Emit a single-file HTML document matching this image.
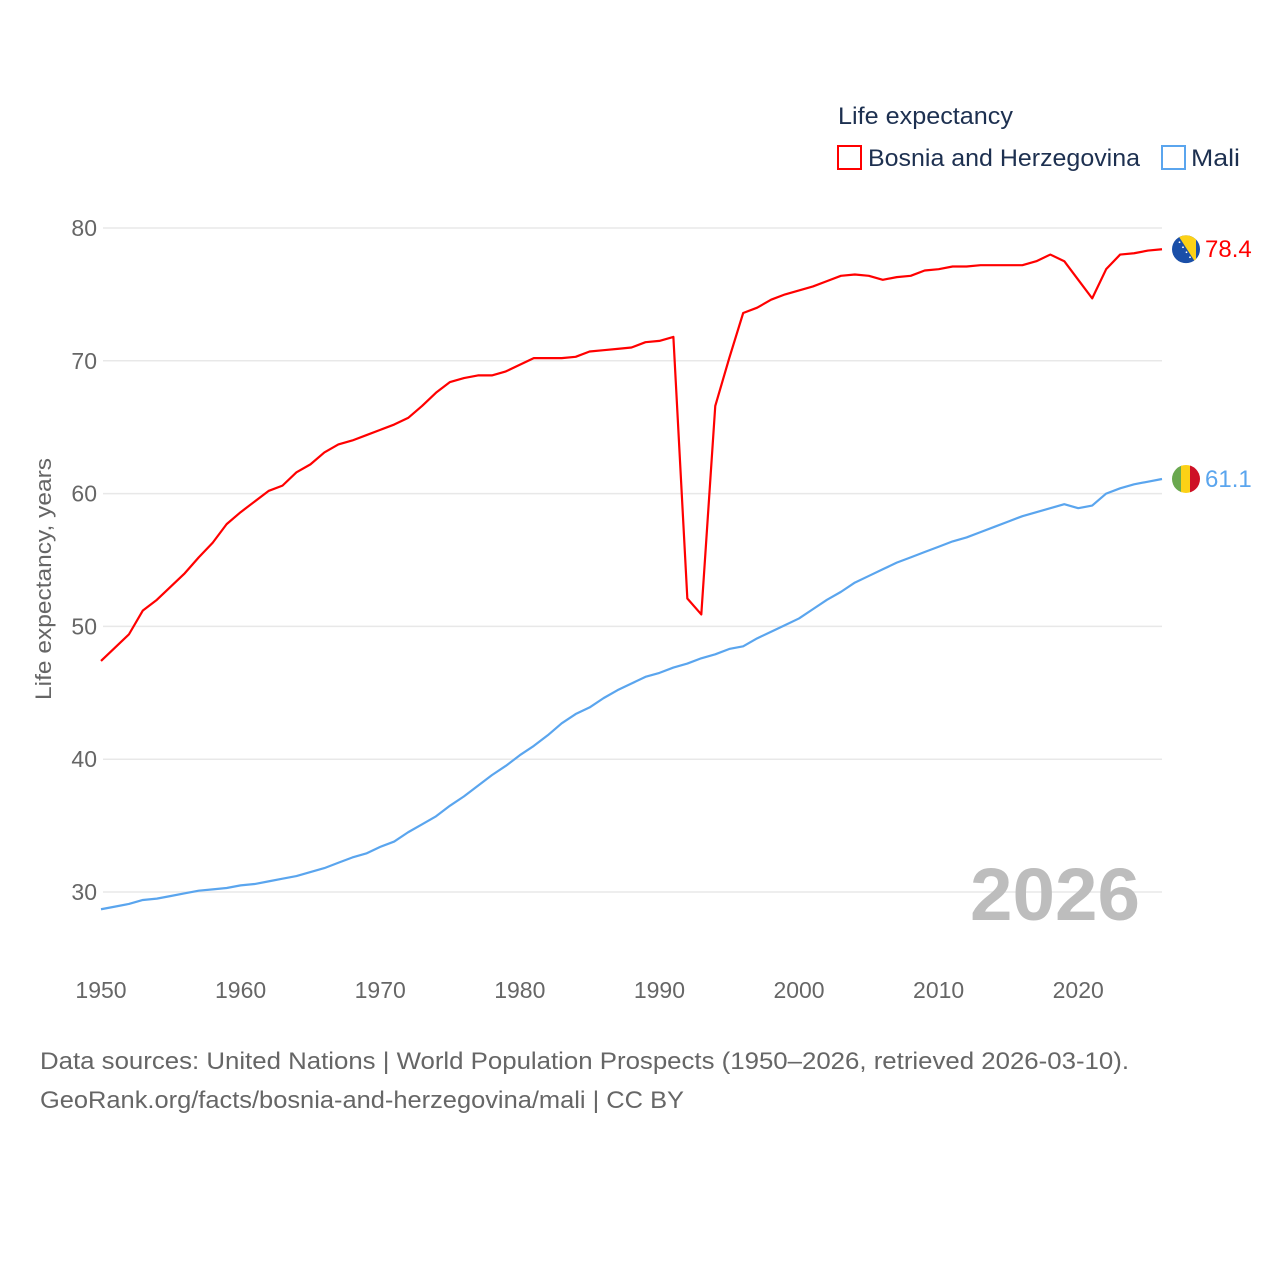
<!DOCTYPE html>
<html><head><meta charset="utf-8"><style>
body{margin:0;background:#fff;}
svg text{font-family:"Liberation Sans",sans-serif;}
</style></head><body>
<svg width="1280" height="1280" viewBox="0 0 1280 1280">
<g id="grid"></g>
<g id="yt"></g>
<g id="xt"></g>
<text transform="translate(51,579) rotate(-90)" text-anchor="middle" font-size="22" fill="#666" textLength="242" lengthAdjust="spacingAndGlyphs">Life expectancy, years</text>
<text x="838" y="124" font-size="24" fill="#1d3050" textLength="175" lengthAdjust="spacingAndGlyphs">Life expectancy</text>
<g><rect x="838" y="146" width="23" height="23" fill="none" stroke="#f00" stroke-width="2"/><text x="868" y="166" font-size="24" fill="#1d3050" textLength="272" lengthAdjust="spacingAndGlyphs">Bosnia and Herzegovina</text></g>
<g><rect x="1162" y="146" width="23" height="23" fill="none" stroke="#5aa5ee" stroke-width="2"/><text x="1191" y="166" font-size="24" fill="#1d3050" textLength="49" lengthAdjust="spacingAndGlyphs">Mali</text></g>
<text x="1140" y="920" text-anchor="end" font-size="74" font-weight="bold" fill="#bdbdbd" textLength="170" lengthAdjust="spacingAndGlyphs">2026</text>
<g id="series"></g>
<text x="40" y="1069" font-size="24" fill="#666" textLength="1089" lengthAdjust="spacingAndGlyphs">Data sources: United Nations | World Population Prospects (1950–2026, retrieved 2026-03-10).</text>
<text x="40" y="1108" font-size="24" fill="#666" textLength="644" lengthAdjust="spacingAndGlyphs">GeoRank.org/facts/bosnia-and-herzegovina/mali | CC BY</text>
</svg>
<script>
const years=[];for(let y=1950;y<=2026;y++)years.push(y);
const bosnia=[47.4,48.4,49.4,51.2,52.0,53.0,54.0,55.2,56.3,57.7,58.6,59.4,60.2,60.6,61.6,62.2,63.1,63.7,64.0,64.4,64.8,65.2,65.7,66.6,67.6,68.4,68.7,68.9,68.9,69.2,69.7,70.2,70.2,70.2,70.3,70.7,70.8,70.9,71.0,71.4,71.5,71.8,52.1,50.9,66.6,70.2,73.6,74.0,74.6,75.0,75.3,75.6,76.0,76.4,76.5,76.4,76.1,76.3,76.4,76.8,76.9,77.1,77.1,77.2,77.2,77.2,77.2,77.5,78.0,77.5,76.1,74.7,76.9,78.0,78.1,78.3,78.4];
const mali=[28.7,28.9,29.1,29.4,29.5,29.7,29.9,30.1,30.2,30.3,30.5,30.6,30.8,31.0,31.2,31.5,31.8,32.2,32.6,32.9,33.4,33.8,34.5,35.1,35.7,36.5,37.2,38.0,38.8,39.5,40.3,41.0,41.8,42.7,43.4,43.9,44.6,45.2,45.7,46.2,46.5,46.9,47.2,47.6,47.9,48.3,48.5,49.1,49.6,50.1,50.6,51.3,52.0,52.6,53.3,53.8,54.3,54.8,55.2,55.6,56.0,56.4,56.7,57.1,57.5,57.9,58.3,58.6,58.9,59.2,58.9,59.1,60.0,60.4,60.7,60.9,61.1];
const yTicks=[30,40,50,60,70,80];
const xTicks=[1950,1960,1970,1980,1990,2000,2010,2020];
const NS='http://www.w3.org/2000/svg';
const X=y=>101+(y-1950)*(1162-101)/76;
const Y=v=>228+(80-v)*13.28;
function mk(t,a,p){const e=document.createElementNS(NS,t);for(const k in a)e.setAttribute(k,a[k]);p.appendChild(e);return e;}
const grid=document.getElementById('grid'),yt=document.getElementById('yt'),xt=document.getElementById('xt'),ser=document.getElementById('series');
yTicks.forEach(v=>{
 const l=mk('line',{x1:103,x2:1162,y1:Y(v),y2:Y(v),stroke:'#e8e8e8','stroke-width':1.5},grid);
 
 
 const t=mk('text',{x:97,y:Y(v)+8,'text-anchor':'end','font-size':23,fill:'#666'},yt);t.textContent=v;
 
 
});
xTicks.forEach(v=>{
 const t=mk('text',{x:X(v),y:998,'text-anchor':'middle','font-size':23,fill:'#666'},xt);t.textContent=v;
 
 
});
function line(data,color,name){
 const p=mk('polyline',{points:data.map((v,i)=>X(years[i])+','+Y(v)).join(' '),fill:'none',stroke:color,'stroke-width':2.2,'stroke-linejoin':'round'},ser);
 
 
 const last=data[data.length-1],ly=Y(last);
 const t=mk('text',{x:1205,y:ly+8,'font-size':24,fill:color},ser);t.textContent=last.toFixed(1);
 
 
 return ly;
}
const by=line(bosnia,'#f00','bosnia');
const my=line(mali,'#5aa5ee','mali');
const defs=mk('defs',{},ser);
const cbp=mk('clipPath',{id:'cb'},defs);mk('circle',{cx:1186,cy:by,r:14},cbp);
const cm=mk('clipPath',{id:'cm'},defs);mk('circle',{cx:1186,cy:my,r:14},cm);
const fb=mk('g',{'clip-path':'url(#cb)'},ser);


mk('rect',{x:1172,y:by-14,width:28,height:28,fill:'#1a4fa8'},fb);
mk('polygon',{points:`1178,${by-14} 1196,${by-14} 1196,${by+14}`,fill:'#fcd116'},fb);
for(let i=0;i<6;i++)mk('circle',{cx:1176+i*3.5,cy:by-12+i*5,r:0.9,fill:'#fff'},fb);
const fm=mk('g',{'clip-path':'url(#cm)'},ser);


mk('rect',{x:1172,y:my-14,width:10,height:28,fill:'#6aa84f'},fm);
mk('rect',{x:1181,y:my-14,width:10,height:28,fill:'#fcd116'},fm);
mk('rect',{x:1190,y:my-14,width:10,height:28,fill:'#ce1126'},fm);
</script>
</body></html>
